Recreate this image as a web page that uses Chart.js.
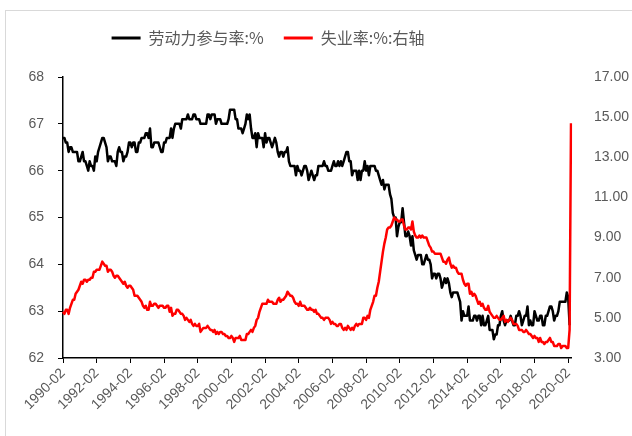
<!DOCTYPE html>
<html>
<head>
<meta charset="utf-8">
<script src="https://cdn.jsdelivr.net/npm/chart.js@4.4.0/dist/chart.umd.min.js"></script>
<style>
  html, body { margin: 0; padding: 0; background: #fff; }
  #wrap { position: relative; width: 632px; height: 436px; overflow: hidden; background: #fff; }
  #frame { position: absolute; left: 5px; top: 10px; width: 660px; height: 460px;
           border: 1px solid #d9d9d9; box-sizing: border-box; }
  #c { position: absolute; left: 0; top: 0; }
</style>
</head>
<body>
<div id="wrap">
  <div id="frame"></div>
  <canvas id="c" width="632" height="436"></canvas>
</div>
<script>
// Monthly series, starting 1990-02
const START_YEAR = 1990;
const START_MONTH = 2;

const seriesNames = ['劳动力参与率:%', '失业率:%:右轴'];

// Labour force participation rate, %  (left axis)
const participation = [
  66.7, 66.7, 66.6, 66.6, 66.4, 66.5, 66.5, 66.4, 66.4, 66.4, 66.4,              // 1990 (Feb-Dec)
  66.2, 66.2, 66.3, 66.4, 66.2, 66.2, 66.1, 66.0, 66.2, 66.1, 66.1, 66.0,        // 1991
  66.3, 66.2, 66.4, 66.5, 66.6, 66.7, 66.7, 66.6, 66.5, 66.2, 66.3, 66.3,        // 1992
  66.2, 66.2, 66.2, 66.1, 66.4, 66.5, 66.4, 66.4, 66.2, 66.3, 66.3, 66.4,        // 1993
  66.6, 66.6, 66.5, 66.6, 66.6, 66.4, 66.4, 66.6, 66.6, 66.7, 66.7, 66.7,        // 1994
  66.8, 66.8, 66.7, 66.9, 66.5, 66.5, 66.6, 66.6, 66.6, 66.6, 66.5, 66.4,        // 1995
  66.4, 66.6, 66.6, 66.7, 66.7, 66.7, 66.9, 66.7, 66.9, 67.0, 67.0, 67.0,        // 1996
  67.0, 66.9, 67.1, 67.1, 67.1, 67.1, 67.2, 67.1, 67.1, 67.1, 67.2, 67.2,        // 1997
  67.1, 67.1, 67.1, 67.0, 67.0, 67.0, 67.0, 67.0, 67.2, 67.2, 67.1, 67.2,        // 1998
  67.2, 67.2, 67.0, 67.1, 67.1, 67.1, 67.0, 67.0, 67.0, 67.0, 67.0, 67.1,        // 1999
  67.3, 67.3, 67.3, 67.3, 67.1, 67.1, 66.9, 66.9, 66.9, 66.8, 66.9, 67.0,        // 2000
  67.2, 67.1, 67.2, 66.9, 66.7, 66.7, 66.8, 66.5, 66.8, 66.7, 66.7, 66.7,        // 2001
  66.5, 66.8, 66.6, 66.7, 66.7, 66.6, 66.5, 66.6, 66.7, 66.6, 66.4, 66.3,        // 2002
  66.4, 66.4, 66.3, 66.4, 66.4, 66.5, 66.2, 66.1, 66.1, 66.1, 66.1, 65.9,        // 2003
  66.1, 66.0, 66.0, 65.9, 66.0, 66.1, 66.1, 66.0, 65.8, 65.9, 66.0, 65.9,        // 2004
  65.8, 65.9, 65.9, 66.1, 66.1, 66.1, 66.1, 66.2, 66.1, 66.1, 66.0, 66.0,        // 2005
  66.0, 66.1, 66.2, 66.1, 66.1, 66.2, 66.1, 66.2, 66.1, 66.2, 66.3, 66.4,        // 2006
  66.4, 66.2, 66.2, 65.9, 66.0, 66.0, 66.0, 65.8, 66.0, 65.8, 66.0, 66.0,        // 2007
  66.2, 66.0, 66.1, 65.9, 66.1, 66.1, 66.1, 66.1, 66.0, 66.0, 65.9, 65.8,        // 2008
  65.7, 65.8, 65.6, 65.7, 65.7, 65.7, 65.5, 65.4, 65.1, 65.0, 65.0, 64.6,        // 2009
  64.8, 64.9, 64.9, 65.2, 64.9, 64.6, 64.6, 64.7, 64.6, 64.4, 64.6, 64.3,        // 2010
  64.2, 64.1, 64.2, 64.2, 64.2, 64.0, 64.0, 64.1, 64.2, 64.1, 64.1, 64.0,        // 2011
  63.7, 63.8, 63.8, 63.7, 63.8, 63.8, 63.7, 63.5, 63.6, 63.7, 63.6, 63.7,        // 2012
  63.6, 63.4, 63.3, 63.4, 63.4, 63.4, 63.4, 63.3, 63.2, 62.8, 63.0, 62.9,        // 2013
  62.9, 62.9, 63.1, 62.8, 62.8, 62.8, 62.9, 62.9, 62.8, 62.9, 62.9, 62.7,        // 2014
  62.9, 62.7, 62.7, 62.8, 62.9, 62.6, 62.6, 62.6, 62.4, 62.5, 62.5, 62.7,        // 2015
  62.7, 62.9, 63.0, 62.8, 62.7, 62.8, 62.8, 62.8, 62.9, 62.8, 62.7, 62.7,        // 2016
  62.9, 62.9, 63.0, 62.9, 62.7, 62.8, 62.9, 62.9, 63.1, 62.7, 62.8, 62.7,        // 2017
  62.7, 63.0, 62.9, 62.8, 62.8, 62.9, 62.9, 62.7, 62.7, 62.9, 62.9, 63.0,        // 2018
  63.1, 63.1, 63.0, 62.8, 62.9, 62.9, 63.0, 63.2, 63.2, 63.2, 63.2, 63.2,        // 2019
  63.4, 63.3, 62.7, null                                                          // 2020 (Jan-Apr)
];

// Unemployment rate, %  (right axis)
const unemployment = [
  5.3, 5.2, 5.4, 5.4, 5.2, 5.5, 5.7, 5.9, 5.9, 6.2, 6.3,                          // 1990 (Feb-Dec)
  6.4, 6.6, 6.8, 6.7, 6.9, 6.9, 6.8, 6.9, 6.9, 7.0, 7.0, 7.3,                     // 1991
  7.3, 7.4, 7.4, 7.4, 7.6, 7.8, 7.7, 7.6, 7.6, 7.3, 7.4, 7.4,                     // 1992
  7.3, 7.1, 7.0, 7.1, 7.1, 7.0, 6.9, 6.8, 6.7, 6.8, 6.6, 6.5,                     // 1993
  6.6, 6.6, 6.5, 6.4, 6.1, 6.1, 6.1, 6.0, 5.9, 5.8, 5.6, 5.5,                     // 1994
  5.6, 5.4, 5.4, 5.8, 5.6, 5.6, 5.7, 5.7, 5.6, 5.5, 5.6, 5.6,                     // 1995
  5.6, 5.5, 5.5, 5.6, 5.6, 5.3, 5.5, 5.1, 5.2, 5.2, 5.4, 5.4,                     // 1996
  5.3, 5.2, 5.2, 5.1, 4.9, 5.0, 4.9, 4.8, 4.9, 4.7, 4.6, 4.7,                     // 1997
  4.6, 4.6, 4.7, 4.3, 4.4, 4.5, 4.5, 4.5, 4.6, 4.5, 4.4, 4.4,                     // 1998
  4.3, 4.4, 4.2, 4.3, 4.2, 4.3, 4.3, 4.2, 4.2, 4.1, 4.1, 4.0,                     // 1999
  4.0, 4.1, 4.0, 3.8, 4.0, 4.0, 4.0, 4.1, 3.9, 3.9, 3.9, 3.9,                     // 2000
  4.2, 4.2, 4.3, 4.4, 4.3, 4.5, 4.6, 4.9, 5.0, 5.3, 5.5, 5.7,                     // 2001
  5.7, 5.7, 5.7, 5.9, 5.8, 5.8, 5.8, 5.7, 5.7, 5.7, 5.9, 6.0,                     // 2002
  5.8, 5.9, 5.9, 6.0, 6.1, 6.3, 6.2, 6.1, 6.1, 6.0, 5.8, 5.7,                     // 2003
  5.7, 5.6, 5.8, 5.6, 5.6, 5.6, 5.5, 5.4, 5.4, 5.5, 5.4, 5.4,                     // 2004
  5.3, 5.4, 5.2, 5.2, 5.1, 5.0, 5.0, 4.9, 5.0, 5.0, 5.0, 4.9,                     // 2005
  4.7, 4.8, 4.7, 4.7, 4.6, 4.6, 4.7, 4.7, 4.5, 4.4, 4.5, 4.4,                     // 2006
  4.6, 4.5, 4.4, 4.5, 4.4, 4.6, 4.7, 4.6, 4.7, 4.7, 4.7, 5.0,                     // 2007
  5.0, 4.9, 5.1, 5.0, 5.4, 5.6, 5.8, 6.1, 6.1, 6.5, 6.8, 7.3,                     // 2008
  7.8, 8.3, 8.7, 9.0, 9.4, 9.5, 9.5, 9.6, 9.8, 10.0, 9.9, 9.9,                    // 2009
  9.8, 9.8, 9.9, 9.9, 9.6, 9.4, 9.4, 9.5, 9.5, 9.4, 9.8, 9.3,                     // 2010
  9.1, 9.0, 9.0, 9.1, 9.0, 9.1, 9.0, 9.0, 9.0, 8.8, 8.6, 8.5,                     // 2011
  8.3, 8.3, 8.2, 8.2, 8.2, 8.2, 8.2, 8.0, 7.8, 7.8, 7.7, 7.9,                     // 2012
  8.0, 7.7, 7.5, 7.6, 7.5, 7.5, 7.3, 7.2, 7.2, 7.2, 6.9, 6.7,                     // 2013
  6.6, 6.7, 6.7, 6.2, 6.3, 6.1, 6.2, 6.1, 5.9, 5.7, 5.8, 5.6,                     // 2014
  5.7, 5.5, 5.4, 5.4, 5.6, 5.3, 5.2, 5.1, 5.0, 5.0, 5.1, 5.0,                     // 2015
  4.9, 4.9, 5.0, 5.1, 4.8, 4.9, 4.8, 4.9, 5.0, 4.9, 4.7, 4.7,                     // 2016
  4.7, 4.6, 4.4, 4.4, 4.4, 4.3, 4.3, 4.4, 4.3, 4.2, 4.2, 4.1,                     // 2017
  4.0, 4.1, 4.0, 4.0, 3.8, 4.0, 3.8, 3.8, 3.7, 3.8, 3.8, 3.9,                     // 2018
  4.0, 3.8, 3.8, 3.6, 3.6, 3.6, 3.7, 3.7, 3.5, 3.6, 3.6, 3.6,                     // 2019
  3.5, 3.5, 4.4, 14.7                                                             // 2020 (Jan-Apr)
];

// Month categories "YYYY-MM", one per data point
const months = [];
for (let i = 0; i < participation.length; i++) {
  const m = START_MONTH - 1 + i;
  const y = START_YEAR + Math.floor(m / 12);
  const mm = (m % 12) + 1;
  months.push(y + '-' + String(mm).padStart(2, '0'));
}
// Every second February gets a tick label
const LABEL_EVERY = 24;

const tickFont = { family: '"Liberation Sans", Arial, sans-serif', size: 14 };
const textColor = '#595959';

// Adds room under the legend and nudges it left of centre
const legendPlacement = {
  id: 'legendPlacement',
  beforeLayout(chart) {
    const lg = chart.legend;
    if (lg && !lg.__extra) {
      const fit = lg.fit;
      lg.fit = function () { fit.call(this); this.height += 21; };
      lg.__extra = true;
    }
  },
  afterLayout(chart) {
    const lg = chart.legend;
    if (lg) { lg.left -= 48; lg.right -= 48; }
  }
};

new Chart(document.getElementById('c'), {
  type: 'line',
  data: {
    labels: months,
    datasets: [
      {
        label: seriesNames[0],
        data: participation,
        yAxisID: 'y',
        borderColor: '#000000',
        backgroundColor: '#000000',
        borderWidth: 2.5,
        pointRadius: 0,
        tension: 0,
        borderJoinStyle: 'round',
        order: 1
      },
      {
        label: seriesNames[1],
        data: unemployment,
        yAxisID: 'y1',
        borderColor: '#ff0000',
        backgroundColor: '#ff0000',
        borderWidth: 2.5,
        pointRadius: 0,
        tension: 0,
        borderJoinStyle: 'round',
        order: 0
      }
    ]
  },
  options: {
    responsive: false,
    animation: false,
    events: [],
    layout: { padding: { top: 10, left: 0, right: 0, bottom: 0 } },
    plugins: {
      tooltip: { enabled: false },
      legend: {
        position: 'top',
        align: 'center',
        labels: {
          boxWidth: 29,
          boxHeight: 3,
          padding: 20,
          color: textColor,
          font: { family: '"Noto Sans CJK SC", sans-serif', size: 16 },
          sort: (a, b) => a.datasetIndex - b.datasetIndex,
          generateLabels(chart) {
            const items = Chart.defaults.plugins.legend.labels.generateLabels(chart);
            items.forEach(it => { it.lineWidth = 0; });
            return items;
          }
        }
      }
    },
    scales: {
      x: {
        type: 'category',
        offset: false,
        grid: { display: true, drawOnChartArea: false, drawTicks: true, tickLength: 5, color: '#000000', lineWidth: 1 },
        border: { display: true, color: '#000000', width: 1.5 },
        ticks: {
          autoSkip: false,
          maxRotation: 45,
          minRotation: 45,
          padding: 2,
          color: textColor,
          font: tickFont,
          callback(value, index) { return index % LABEL_EVERY === 0 ? months[index] : null; }
        },
        afterFit(scale) { scale.height = 78; }
      },
      y: {
        position: 'left',
        min: 62,
        max: 68,
        grid: { display: true, drawOnChartArea: false, drawTicks: true, tickLength: 5, color: '#000000', lineWidth: 1 },
        border: { display: true, color: '#000000', width: 1.5 },
        ticks: { stepSize: 1, padding: 14, color: textColor, font: tickFont },
        afterFit(scale) { scale.width = 63; }
      },
      y1: {
        position: 'right',
        min: 3,
        max: 17,
        grid: { display: false },
        border: { display: false },
        ticks: { stepSize: 2, padding: 15, color: textColor, font: tickFont, callback: v => v.toFixed(2) },
        afterFit(scale) { scale.width = 61; }
      }
    }
  },
  plugins: [legendPlacement]
});
</script>
</body>
</html>
